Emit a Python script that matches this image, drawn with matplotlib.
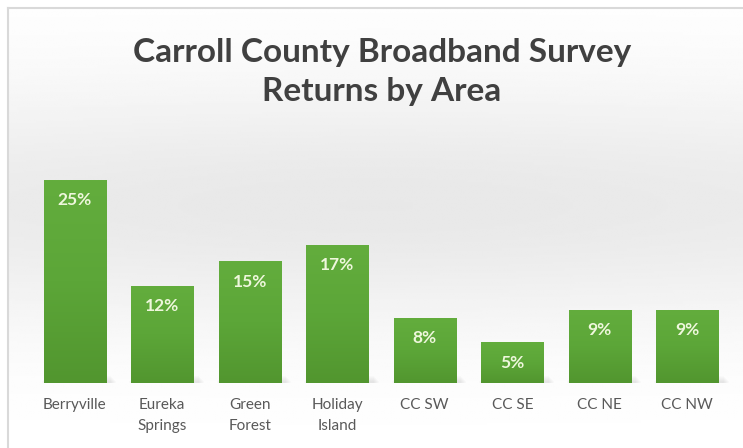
import matplotlib
matplotlib.use("Agg")
import matplotlib.pyplot as plt
import numpy as np
from matplotlib.colors import LinearSegmentedColormap

categories = ["Berryville", "Eureka\nSprings", "Green\nForest", "Holiday\nIsland",
              "CC SW", "CC SE", "CC NE", "CC NW"]
values = [25, 12, 15, 17, 8, 5, 9, 9]
labels = ["25%", "12%", "15%", "17%", "8%", "5%", "9%", "9%"]
title = "Carroll County Broadband Survey\nReturns by Area"

W, H = 743, 448
fig = plt.figure(figsize=(W / 100, H / 100), dpi=100)
fig.patch.set_facecolor("white")

# background panel with soft gray gradient
bg = fig.add_axes([8 / W, 0, 1 - 8 / W, 1 - 8 / H], zorder=0)
yy = np.linspace(0, 1, 200)[:, None]
xx = np.linspace(0, 1, 300)[None, :]
shade = 1 - 0.09 * np.exp(-((yy - 0.55) / 0.28) ** 2) * (0.75 + 0.25 * np.exp(-((xx - 0.5) / 0.6) ** 2))
bg.imshow(shade, cmap="gray", vmin=0, vmax=1, aspect="auto", extent=[0, 1, 0, 1], origin="lower")
bg.set_xlim(0, 1); bg.set_ylim(0, 1)
bg.set_xticks([]); bg.set_yticks([])
for s in ["right", "bottom"]:
    bg.spines[s].set_visible(False)
for s in ["top", "left"]:
    bg.spines[s].set_color("#d9d9d9")
    bg.spines[s].set_linewidth(1.5)

ax = fig.add_axes([31 / W, 65 / H, 700 / W, (383 - 163.8) / H], zorder=1)
ax.patch.set_alpha(0)
x = np.arange(len(categories))
bars = ax.bar(x, values, width=0.71, color="#5aa236", edgecolor="none", zorder=2)

cmap = LinearSegmentedColormap.from_list("g", ["#52962f", "#5ca638", "#63ad3d"])
grad = np.linspace(0, 1, 100)[:, None]
for b in bars:
    bx, by, bw, bh = b.get_x(), b.get_y(), b.get_width(), b.get_height()
    im = ax.imshow(grad, cmap=cmap, aspect="auto", origin="lower",
                   extent=[bx, bx + bw, by, by + bh], zorder=3)
    im.set_clip_path(b)
    # soft shadow under the bar
    for k in range(6):
        ax.bar(b.get_x() + bw / 2 + 0.05, 0.25 + 0.12 * k, width=bw + 0.08 * (6 - k) * 0.3,
               bottom=0, color="#9a9a9a", alpha=0.04, zorder=1, edgecolor="none")

for xi, v, lab in zip(x, values, labels):
    ax.text(xi, v - 2.5, lab, ha="center", va="center", color="#eef7dc",
            fontsize=12.5, fontweight="bold", family=["Lato", "DejaVu Sans"], zorder=4)

ax.set_xlim(-0.5, len(categories) - 0.5)
ax.set_ylim(0, 27)
ax.set_yticks([])
ax.set_xticks(x)
ax.set_xticklabels(categories, fontsize=11, color="#595959", family=["Lato", "DejaVu Sans"],
                   linespacing=1.65, va="top")
ax.tick_params(axis="x", length=0, pad=11)
for s in ax.spines.values():
    s.set_visible(False)

fig.text(382 / W, 1 - 72 / H, title, ha="center", va="center", fontsize=24, fontweight="bold",
         color="#404040", family=["Lato", "DejaVu Sans"], linespacing=1.4)

fig.savefig("out.png", dpi=100)
